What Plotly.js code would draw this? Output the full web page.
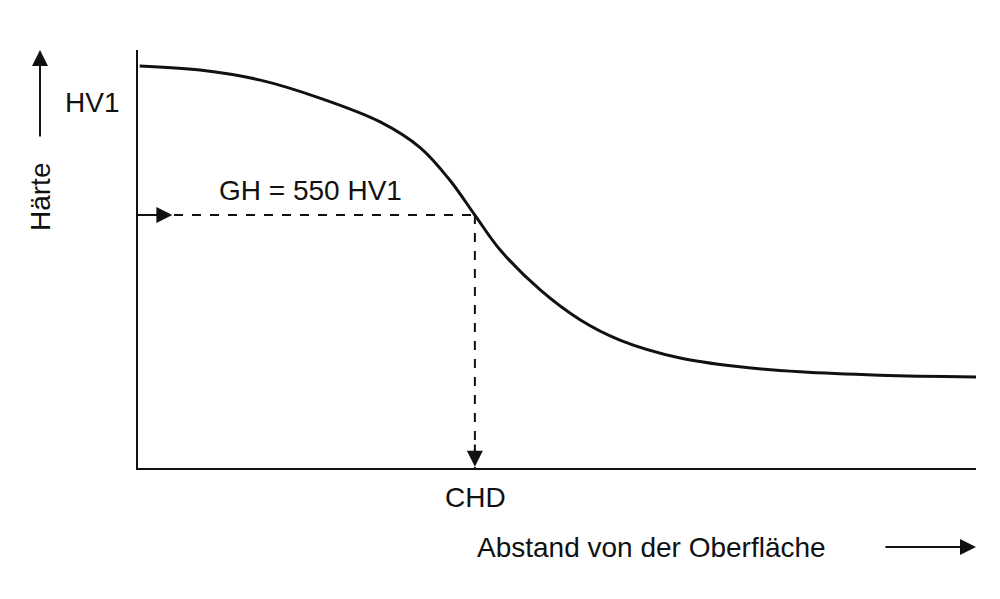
<!DOCTYPE html>
<html>
<head>
<meta charset="utf-8">
<script src="https://cdn.plot.ly/plotly-3.0.1.min.js"></script>
<style>body{margin:0}#plot{width:1000px;height:599px}</style>
</head>
<body>
<div id="plot"></div>
<script>
// Härteverlauf (schematisch), x und y in 0..100
const depth = [0.2, 7.4, 14.6, 21.7, 28.9, 33.7, 37.2, 40.2, 43.2, 48.0, 52.8, 57.5, 64.7, 71.8, 79.0, 88.5, 100];
const hardness = [96.2, 95.2, 92.8, 88.5, 82.8, 76.6, 68.9, 60.5, 52.2, 42.6, 35.4, 30.6, 26.3, 24.2, 23.0, 22.2, 21.8];
const ghLevel = 60.5;
const chdDepth = 40.2;

const font = { family: 'Liberation Sans, Arial, sans-serif', size: 28, color: '#111' };
const px = v => (v - 138) / 838;
const py = v => (468 - v) / 418;
const label = (x, y, text, extra) => Object.assign({ xref: 'paper', yref: 'paper', x: px(x), y: py(y), text: text, showarrow: false, font: font, xanchor: 'center', yanchor: 'middle' }, extra || {});

const trace = {
  x: depth, y: hardness, type: 'scatter', mode: 'lines',
  line: { color: '#111', width: 3, shape: 'spline' }, hoverinfo: 'skip'
};

const arrow = { showarrow: true, arrowhead: 2, arrowsize: 1.6, arrowwidth: 2, arrowcolor: '#111', text: '' };

const layout = {
  width: 1000, height: 599,
  margin: { l: 138, r: 24, t: 50, b: 131 },
  paper_bgcolor: 'white', plot_bgcolor: 'white', showlegend: false,
  xaxis: { range: [0, 100], showline: true, linecolor: '#111', linewidth: 2, showgrid: false, zeroline: false, showticklabels: false, ticks: '' },
  yaxis: { range: [0, 100], showline: true, linecolor: '#111', linewidth: 2, showgrid: false, zeroline: false, showticklabels: false, ticks: '' },
  shapes: [
    { type: 'line', x0: 0, x1: chdDepth, y0: ghLevel, y1: ghLevel, line: { color: '#111', width: 2, dash: 'dash' } },
    { type: 'line', x0: chdDepth, x1: chdDepth, y0: ghLevel, y1: 0, line: { color: '#111', width: 2, dash: 'dash' } }
  ],
  annotations: [
    Object.assign({ x: 4.1, y: ghLevel, ax: 0, ay: ghLevel, axref: 'x', ayref: 'y' }, arrow),
    Object.assign({ x: chdDepth, y: 0.3, ax: chdDepth, ay: 6, axref: 'x', ayref: 'y' }, arrow),
    label(310, 190, 'GH = 550 HV1'),
    label(475, 497, 'CHD'),
    label(651, 547, 'Abstand von der Oberfläche'),
    Object.assign({ xref: 'paper', yref: 'paper', x: 1.0, y: py(547), ax: -92, ay: 0 }, arrow),
    Object.assign({ xref: 'paper', yref: 'paper', x: px(40), y: 1.0, ax: 0, ay: 88 }, arrow),
    label(92, 102, 'HV1'),
    label(40, 197, 'Härte', { textangle: -90 })
  ]
};

Plotly.newPlot('plot', [trace], layout, { staticPlot: true });
</script>
</body>
</html>
